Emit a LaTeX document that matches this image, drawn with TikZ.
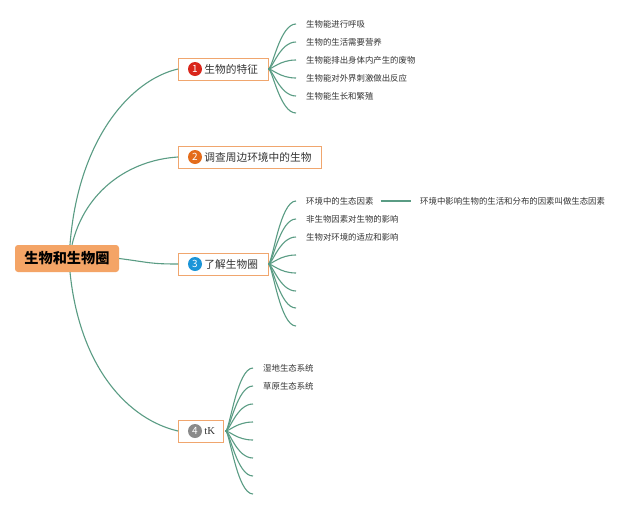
\documentclass[tikz,border=0pt]{standalone}
\usepackage{fontspec}
\setmainfont{Noto Sans CJK SC}
\newfontfamily\serifsf{Liberation Serif}
\usetikzlibrary{calc}
\definecolor{lnc}{HTML}{5A9C84}
\definecolor{bord}{HTML}{F0A66E}
\definecolor{rootfill}{HTML}{F4A466}
\definecolor{cred}{HTML}{D9261C}
\definecolor{corg}{HTML}{E46C1B}
\definecolor{cblu}{HTML}{1C95D8}
\definecolor{cgry}{HTML}{8A8A8A}
\definecolor{txt}{HTML}{333333}
\begin{document}
\begin{tikzpicture}[x=1pt,y=-1pt,
 conn/.style={draw=lnc, line width=1.1pt},
 topic/.style={draw=bord, line width=0.9pt, fill=white, minimum height=22pt, inner xsep=10pt, inner ysep=0pt, font=\fontsize{10.7}{13}\selectfont, anchor=west, text=txt},
 badge/.style={circle, fill=#1, text=white, inner sep=0pt, minimum size=14pt, font=\fontsize{10}{10}\selectfont},
 leaf/.style={anchor=west, inner sep=0pt, font=\fontsize{8.4}{10}\selectfont, text=txt},
 rootbox/.style={fill=rootfill, rounded corners=3pt, minimum width=104pt, minimum height=27pt, inner sep=0pt, font=\fontsize{14.2}{16}\selectfont\bfseries, text=black}
]
\useasboundingbox[fill=white] (0,0) rectangle (640,509);

% root
\node[rootbox] (root) at (67,258.5) {生物和生物圈};

% topics
\node[topic] (n1) at (178,69) {\hspace*{16pt}生物的特征};
\node[badge=cred] (b1) at ($(n1.west)+(17,0)$) {1};
\node[topic] (n2) at (178,157) {\hspace*{16pt}调查周边环境中的生物};
\node[badge=corg] (b2) at ($(n2.west)+(17,0)$) {2};
\node[topic] (n3) at (178,264) {\hspace*{16pt}了解生物圈};
\node[badge=cblu] (b3) at ($(n3.west)+(17,0)$) {3};
\node[topic, inner xsep=8pt] (n4) at (178,431) {\hspace*{18pt}{\serifsf tK}};
\node[badge=cgry] (b4) at ($(n4.west)+(17,0)$) {4};

% main branches
\draw[conn] ($(root.north)+(3,0)$) .. controls (78,140) and (130,80) .. (n1.west);
\draw[conn] ($(root.north)+(5,0)$) .. controls (85,190) and (130,160) .. (n2.west);
\draw[conn] (root.east) .. controls (150,262.5) and (150,264) .. (n3.west);
\draw[conn] ($(root.south)+(3,0)$) .. controls (80,370) and (130,420) .. (n4.west);

% branches of topic 1
\foreach \i/\y in {1/24,2/42,3/60,4/78,5/96,6/113}{
  \coordinate (e1\i) at (296,\y);
  \draw[conn] (n1.east) .. controls +(4,0) and +(-16,0) .. (e1\i);
}
\node[leaf] (l11) at ($(e11)+(10,0)$) {生物能进行呼吸};
\node[leaf] (l12) at ($(e12)+(10,0)$) {生物的生活需要营养};
\node[leaf] (l13) at ($(e13)+(10,0)$) {生物能排出身体内产生的废物};
\node[leaf] (l14) at ($(e14)+(10,0)$) {生物能对外界刺激做出反应};
\node[leaf] (l15) at ($(e15)+(10,0)$) {生物能生长和繁殖};

% branches of topic 3
\foreach \i/\y in {1/201,2/219,3/237,4/255,5/273,6/291,7/308,8/326}{
  \coordinate (e3\i) at (296,\y);
  \draw[conn] (n3.east) .. controls +(4,0) and +(-16,0) .. (e3\i);
}
\node[leaf] (l31) at ($(e31)+(10,0)$) {环境中的生态因素};
\node[leaf] (l32) at ($(e32)+(10,0)$) {非生物因素对生物的影响};
\node[leaf] (l33) at ($(e33)+(10,0)$) {生物对环境的适应和影响};
\node[leaf] (d31) at (420,201) {环境中影响生物的生活和分布的因素叫做生态因素};
\draw[conn, shorten <=7pt, shorten >=9pt] (l31.east) -- (d31.west);

% branches of topic 4
\foreach \i/\y in {1/368,2/386,3/404,4/422,5/440,6/458,7/476,8/494}{
  \coordinate (e4\i) at (253,\y);
  \draw[conn] ($(n4.east)+(2,0)$) .. controls +(4,0) and +(-16,0) .. (e4\i);
}
\node[leaf] (l41) at ($(e41)+(10,0)$) {湿地生态系统};
\node[leaf] (l42) at ($(e42)+(10,0)$) {草原生态系统};
\end{tikzpicture}
\end{document}
